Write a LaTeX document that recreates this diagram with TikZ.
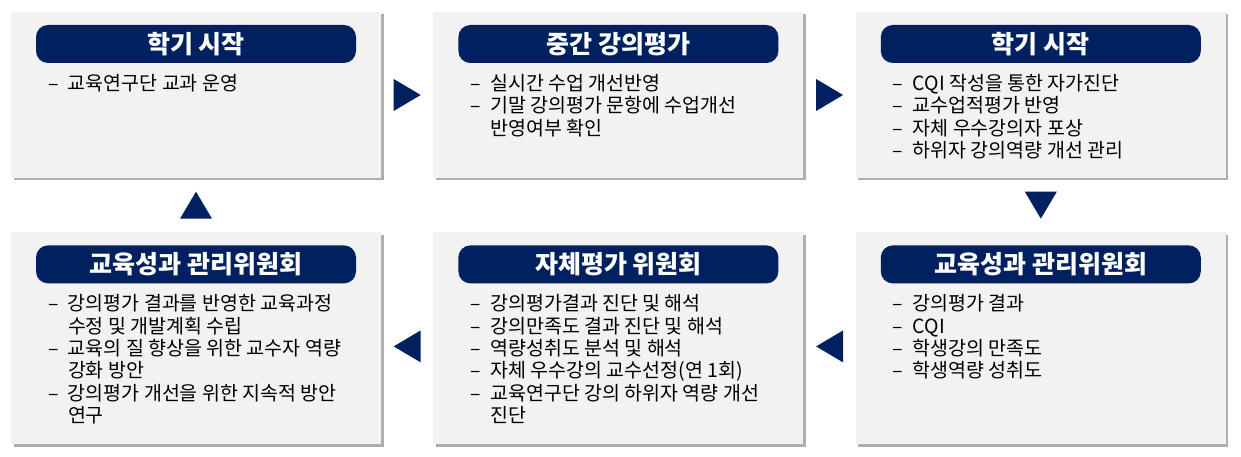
\documentclass[tikz,border=0pt]{standalone}
\usepackage{fontspec}
\setmainfont{Noto Sans CJK KR}
\usetikzlibrary{positioning,calc,shadows}
\definecolor{navy}{HTML}{002060}
\definecolor{panel}{HTML}{F2F2F2}
\newcommand{\itm}{\makebox[20pt][l]{–}}
\newcommand{\cont}{\hspace*{20pt}}

\begin{document}
\begin{tikzpicture}[x=1pt,y=-1pt,
		box/.style={fill=panel,minimum width=370pt,inner sep=0,
			drop shadow={shadow xshift=2.5pt,shadow yshift=-2.5pt,fill=black!45,opacity=.7}},
		title/.style={fill=navy,text=white,rounded corners=12pt,minimum width=320pt,minimum height=38pt,
			inner sep=0,font=\fontsize{25pt}{28pt}\selectfont\bfseries},
		list/.style={align=left,inner sep=0,font=\fontsize{19.5pt}{22.3pt}\selectfont}]
	\useasboundingbox (0,0) rectangle (1241,457);
	% upper row
	\node[box,minimum height=166pt] (p1) at (196,95) {};
	\node[box,minimum height=166pt,right=52pt of p1] (p2) {};
	\node[box,minimum height=166pt,right=52pt of p2] (p3) {};
	% lower row
	\node[box,minimum height=212pt,below=54pt of p1] (p4) {};
	\node[box,minimum height=212pt,right=52pt of p4] (p5) {};
	\node[box,minimum height=212pt,right=52pt of p5] (p6) {};
	% titles
	\node[title,below=13pt of p1.north] (t1) {학기 시작};
	\node[title,below=13pt of p2.north] (t2) {중간 강의평가};
	\node[title,below=13pt of p3.north] (t3) {학기 시작};
	\node[title,below=13pt of p4.north] (t4) {교육성과 관리위원회};
	\node[title,below=13pt of p5.north] (t5) {자체평가 위원회};
	\node[title,below=13pt of p6.north] (t6) {교육성과 관리위원회};
	% contents
	\node[list,below right=11pt and 12pt of t1.south west] (l1) {\itm 교육연구단 교과 운영};
	\node[list,below right=11pt and 12pt of t2.south west] (l2) {\itm 실시간 수업 개선반영\\
		\itm 기말 강의평가 문항에 수업개선\\ \cont 반영여부 확인};
	\node[list,below right=11pt and 12pt of t3.south west] (l3) {\itm CQI 작성을 통한 자가진단\\
		\itm 교수업적평가 반영\\ \itm 자체 우수강의자 포상\\ \itm 하위자 강의역량 개선 관리};
	\node[list,below right=11pt and 12pt of t4.south west] (l4) {\itm 강의평가 결과를 반영한 교육과정\\
		\cont 수정 및 개발계획 수립\\ \itm 교육의 질 향상을 위한 교수자 역량\\ \cont 강화 방안\\
		\itm 강의평가 개선을 위한 지속적 방안\\ \cont 연구};
	\node[list,below right=11pt and 12pt of t5.south west] (l5) {\itm 강의평가결과 진단 및 해석\\
		\itm 강의만족도 결과 진단 및 해석\\ \itm 역량성취도 분석 및 해석\\
		\itm 자체 우수강의 교수선정(연 1회)\\ \itm 교육연구단 강의 하위자 역량 개선\\ \cont 진단};
	\node[list,below right=11pt and 12pt of t6.south west] (l6) {\itm 강의평가 결과\\ \itm CQI\\
		\itm 학생강의 만족도\\ \itm 학생역량 성취도};
	% arrows between the steps
	\foreach \a/\b/\r/\dy in {p1.east/p2.west/0/0,p2.east/p3.west/0/0,p3.south/p6.north/-90/0,
			p6.west/p5.east/180/8,p5.west/p4.east/180/8,p4.north/p1.south/90/0}
		\fill[navy,shift={($(\a)!.5!(\b)+(0,\dy)$)},rotate=\r] (-13.5,-16) -- (13.5,0) -- (-13.5,16) -- cycle;
\end{tikzpicture}
\end{document}
